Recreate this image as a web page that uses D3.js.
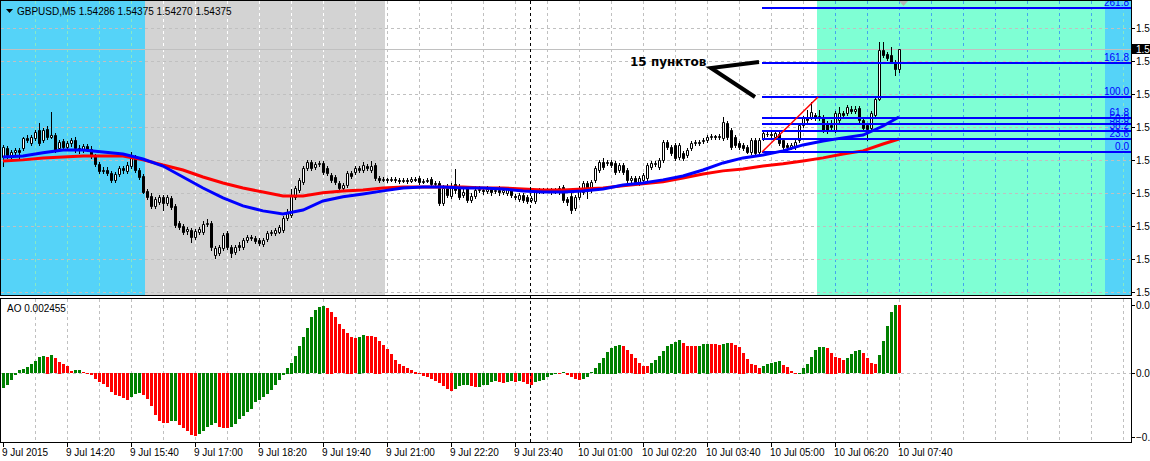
<!DOCTYPE html>
<html>
<head>
<meta charset="utf-8">
<script src="https://cdn.jsdelivr.net/npm/d3@7"></script>
<style>
body {margin: 0; background: #fff}
svg {display: block; font-family: "Liberation Sans", Arial, sans-serif; font-size: 10px}
</style>
</head>
<body>
<div id="chart"></div>
<script>
// Chart data: GBPUSD M5, one bar every 5 minutes starting 9 Jul 13:00
var symbol = "GBPUSD,M5"
var open = [
1.53884,1.53925,1.53893,1.53907,1.53916,1.53925,1.53971,1.53948,1.53971,1.54007,
1.53962,1.54012,1.53975,1.53984,1.53925,1.53957,1.53930,1.53948,1.53962,1.53925,
1.53916,1.53934,1.53921,1.53889,1.53853,1.53821,1.53825,1.53812,1.53780,1.53807,
1.53834,1.53821,1.53843,1.53884,1.53825,1.53798,1.53730,1.53707,1.53662,1.53680,
1.53703,1.53675,1.53698,1.53662,1.53584,1.53571,1.53548,1.53553,1.53521,1.53544,
1.53544,1.53580,1.53584,1.53439,1.53448,1.53471,1.53539,1.53475,1.53453,1.53484,
1.53475,1.53507,1.53521,1.53516,1.53507,1.53489,1.53512,1.53539,1.53539,1.53544,
1.53553,1.53607,1.53621,1.53703,1.53734,1.53771,1.53834,1.53862,1.53839,1.53853,
1.53857,1.53834,1.53803,1.53793,1.53766,1.53743,1.53757,1.53812,1.53816,1.53834,
1.53825,1.53843,1.53825,1.53848,1.53789,1.53780,1.53784,1.53780,1.53784,1.53780,
1.53775,1.53780,1.53775,1.53784,1.53789,1.53771,1.53775,1.53784,1.53762,1.53766,
1.53675,1.53743,1.53707,1.53762,1.53753,1.53712,1.53743,1.53689,1.53707,1.53734,
1.53734,1.53730,1.53739,1.53730,1.53734,1.53725,1.53721,1.53734,1.53707,1.53694,
1.53712,1.53703,1.53689,1.53684,1.53725,1.53734,1.53730,1.53734,1.53730,1.53725,
1.53748,1.53694,1.53707,1.53653,1.53703,1.53725,1.53766,1.53734,1.53780,1.53825,
1.53862,1.53857,1.53862,1.53857,1.53825,1.53848,1.53825,1.53780,1.53789,1.53766,
1.53780,1.53789,1.53839,1.53853,1.53839,1.53871,1.53953,1.53930,1.53939,1.53884,
1.53903,1.53893,1.53925,1.53948,1.53953,1.53957,1.53962,1.53975,1.53980,1.53975,
1.53971,1.54039,1.54007,1.53975,1.53948,1.53939,1.53930,1.53907,1.53962,1.53907,
1.53971,1.53989,1.53989,1.53975,1.53989,1.53962,1.53939,1.53930,1.53930,1.53962,
1.54030,1.54062,1.54066,1.54075,1.54066,1.54066,1.54039,1.54030,1.54007,1.54053,
1.54084,1.54084,1.54103,1.54094,1.54107,1.54053,1.54030,1.54016,1.54075,1.54148,
1.54371,1.54353,1.54348,1.54316,1.54286]
var high = [
1.53939,1.53934,1.53916,1.53925,1.53925,1.53975,1.53984,1.53984,1.54007,1.54039,
1.54016,1.54025,1.54089,1.53993,1.53962,1.53966,1.53957,1.53971,1.53975,1.53939,
1.53943,1.53943,1.53934,1.53898,1.53862,1.53839,1.53839,1.53821,1.53816,1.53843,
1.53843,1.53862,1.53907,1.53893,1.53834,1.53807,1.53739,1.53721,1.53703,1.53712,
1.53712,1.53712,1.53707,1.53671,1.53594,1.53580,1.53566,1.53562,1.53557,1.53566,
1.53594,1.53603,1.53594,1.53480,1.53484,1.53539,1.53548,1.53484,1.53484,1.53498,
1.53516,1.53530,1.53530,1.53525,1.53516,1.53516,1.53548,1.53553,1.53562,1.53575,
1.53616,1.53648,1.53739,1.53753,1.53789,1.53843,1.53871,1.53871,1.53862,1.53866,
1.53866,1.53843,1.53812,1.53803,1.53775,1.53766,1.53821,1.53821,1.53843,1.53843,
1.53862,1.53853,1.53866,1.53857,1.53798,1.53793,1.53789,1.53793,1.53793,1.53789,
1.53789,1.53789,1.53793,1.53793,1.53798,1.53784,1.53789,1.53793,1.53775,1.53775,
1.53757,1.53762,1.53766,1.53830,1.53762,1.53743,1.53753,1.53721,1.53753,1.53753,
1.53748,1.53753,1.53748,1.53743,1.53753,1.53743,1.53748,1.53743,1.53716,1.53721,
1.53721,1.53712,1.53707,1.53734,1.53743,1.53743,1.53743,1.53743,1.53743,1.53753,
1.53757,1.53703,1.53721,1.53712,1.53753,1.53775,1.53775,1.53780,1.53843,1.53871,
1.53880,1.53871,1.53871,1.53866,1.53857,1.53857,1.53834,1.53798,1.53798,1.53798,
1.53812,1.53857,1.53866,1.53866,1.53880,1.53962,1.53962,1.53939,1.53948,1.53948,
1.53912,1.53925,1.53957,1.53962,1.53962,1.53971,1.53984,1.53989,1.53984,1.53989,
1.54066,1.54048,1.54016,1.53984,1.53957,1.53948,1.53939,1.53971,1.53971,1.53971,
1.54003,1.53998,1.53998,1.54003,1.53998,1.53971,1.53948,1.53948,1.53962,1.54039,
1.54071,1.54098,1.54134,1.54084,1.54098,1.54075,1.54048,1.54053,1.54094,1.54112,
1.54094,1.54121,1.54116,1.54116,1.54116,1.54062,1.54039,1.54094,1.54157,1.54407,
1.54407,1.54362,1.54384,1.54325,1.54375]
var low = [
1.53843,1.53880,1.53880,1.53893,1.53880,1.53916,1.53953,1.53939,1.53962,1.53939,
1.53953,1.53966,1.53971,1.53907,1.53916,1.53916,1.53921,1.53934,1.53907,1.53903,
1.53907,1.53912,1.53880,1.53843,1.53812,1.53812,1.53803,1.53771,1.53771,1.53798,
1.53812,1.53812,1.53834,1.53816,1.53784,1.53721,1.53694,1.53653,1.53653,1.53671,
1.53643,1.53666,1.53648,1.53566,1.53557,1.53534,1.53534,1.53498,1.53512,1.53534,
1.53534,1.53571,1.53462,1.53425,1.53439,1.53462,1.53466,1.53430,1.53444,1.53462,
1.53466,1.53498,1.53507,1.53494,1.53484,1.53480,1.53503,1.53530,1.53530,1.53539,
1.53544,1.53598,1.53612,1.53694,1.53725,1.53762,1.53825,1.53825,1.53830,1.53843,
1.53807,1.53803,1.53771,1.53762,1.53734,1.53734,1.53748,1.53789,1.53807,1.53816,
1.53816,1.53825,1.53816,1.53780,1.53771,1.53775,1.53771,1.53775,1.53771,1.53766,
1.53771,1.53766,1.53771,1.53775,1.53762,1.53766,1.53771,1.53753,1.53753,1.53666,
1.53666,1.53703,1.53698,1.53721,1.53694,1.53703,1.53680,1.53680,1.53698,1.53725,
1.53716,1.53721,1.53712,1.53721,1.53712,1.53716,1.53712,1.53703,1.53694,1.53684,
1.53680,1.53675,1.53680,1.53675,1.53721,1.53721,1.53725,1.53716,1.53721,1.53716,
1.53680,1.53666,1.53630,1.53643,1.53694,1.53716,1.53698,1.53725,1.53771,1.53816,
1.53830,1.53848,1.53839,1.53807,1.53816,1.53807,1.53771,1.53771,1.53762,1.53757,
1.53771,1.53780,1.53830,1.53843,1.53830,1.53862,1.53921,1.53893,1.53871,1.53875,
1.53871,1.53884,1.53916,1.53939,1.53939,1.53948,1.53953,1.53966,1.53966,1.53966,
1.53962,1.53966,1.53921,1.53930,1.53921,1.53916,1.53903,1.53898,1.53893,1.53903,
1.53962,1.53980,1.53975,1.53966,1.53939,1.53921,1.53921,1.53921,1.53921,1.53953,
1.54021,1.54043,1.54057,1.54053,1.54053,1.53998,1.53993,1.54012,1.53998,1.54043,
1.54066,1.54075,1.54084,1.54084,1.54043,1.54007,1.53962,1.54007,1.54071,1.54143,
1.54339,1.54325,1.54312,1.54257,1.54270]
var close = [
1.53930,1.53893,1.53907,1.53916,1.53907,1.53971,1.53962,1.53975,1.53998,1.53948,
1.54007,1.53975,1.53984,1.53916,1.53953,1.53930,1.53948,1.53962,1.53925,1.53916,
1.53934,1.53921,1.53889,1.53853,1.53821,1.53825,1.53812,1.53780,1.53807,1.53834,
1.53825,1.53848,1.53893,1.53825,1.53793,1.53725,1.53703,1.53662,1.53694,1.53703,
1.53675,1.53703,1.53657,1.53575,1.53566,1.53544,1.53557,1.53521,1.53548,1.53557,
1.53580,1.53584,1.53475,1.53471,1.53475,1.53530,1.53475,1.53448,1.53475,1.53475,
1.53507,1.53521,1.53516,1.53503,1.53494,1.53507,1.53539,1.53544,1.53553,1.53566,
1.53607,1.53634,1.53712,1.53743,1.53780,1.53834,1.53862,1.53834,1.53853,1.53857,
1.53816,1.53812,1.53780,1.53771,1.53743,1.53757,1.53812,1.53798,1.53834,1.53825,
1.53848,1.53834,1.53843,1.53789,1.53780,1.53784,1.53780,1.53784,1.53780,1.53775,
1.53780,1.53775,1.53784,1.53780,1.53771,1.53775,1.53780,1.53762,1.53766,1.53675,
1.53743,1.53712,1.53753,1.53734,1.53703,1.53725,1.53689,1.53707,1.53734,1.53739,
1.53730,1.53739,1.53725,1.53734,1.53725,1.53734,1.53739,1.53712,1.53703,1.53712,
1.53689,1.53684,1.53698,1.53725,1.53734,1.53730,1.53734,1.53725,1.53734,1.53743,
1.53689,1.53680,1.53643,1.53703,1.53743,1.53766,1.53734,1.53771,1.53834,1.53862,
1.53839,1.53862,1.53848,1.53816,1.53848,1.53816,1.53780,1.53789,1.53771,1.53789,
1.53803,1.53848,1.53857,1.53857,1.53871,1.53953,1.53930,1.53903,1.53880,1.53939,
1.53880,1.53916,1.53948,1.53953,1.53948,1.53962,1.53975,1.53980,1.53975,1.53980,
1.54043,1.53975,1.53930,1.53939,1.53930,1.53925,1.53907,1.53962,1.53903,1.53962,
1.53993,1.53989,1.53984,1.53993,1.53948,1.53930,1.53930,1.53939,1.53953,1.54030,
1.54062,1.54053,1.54089,1.54066,1.54071,1.54007,1.54007,1.54021,1.54084,1.54084,
1.54075,1.54112,1.54094,1.54103,1.54053,1.54016,1.54012,1.54084,1.54148,1.54371,
1.54348,1.54334,1.54316,1.54286,1.54375]

// Moving averages read every 5 bars
var maBars = [0,5,10,15,20,25,30,35,40,45,50,55,60,65,70,75,80,85,90,95,100,105,110,115,120,125,130,135,140,145,150,155,160,165,170,175,180,185,190,195,200,205,210,215,220,224]
var maFast = [
1.53884,1.53889,1.53903,1.53916,1.53916,1.53907,1.53898,1.53875,1.53843,1.53793,
1.53743,1.53698,1.53662,1.53639,1.53625,1.53643,1.53684,1.53703,1.53716,1.53730,
1.53743,1.53748,1.53748,1.53743,1.53743,1.53739,1.53730,1.53725,1.53725,1.53730,
1.53739,1.53757,1.53766,1.53780,1.53798,1.53825,1.53857,1.53880,1.53893,1.53912,
1.53939,1.53957,1.53971,1.53984,1.54025,1.54066]
var maSlow = [
1.53866,1.53871,1.53880,1.53884,1.53889,1.53889,1.53889,1.53871,1.53848,1.53825,
1.53793,1.53766,1.53743,1.53725,1.53707,1.53707,1.53721,1.53730,1.53734,1.53743,
1.53748,1.53748,1.53748,1.53748,1.53743,1.53743,1.53739,1.53734,1.53734,1.53739,
1.53743,1.53753,1.53762,1.53771,1.53789,1.53807,1.53821,1.53830,1.53843,1.53853,
1.53866,1.53880,1.53898,1.53912,1.53943,1.53966]

// Awesome Oscillator
var aoValues = [
-0.000539,-0.000443,-0.000240,-0.000060,0.000120,0.000156,0.000240,0.000335,0.000443,0.000575,
0.000623,0.000599,0.000659,0.000539,0.000419,0.000335,0.000264,0.000084,0.000108,0.000120,
0.000036,-0.000024,-0.000060,-0.000204,-0.000323,-0.000395,-0.000515,-0.000683,-0.000803,-0.000839,
-0.000899,-0.000958,-0.000875,-0.000743,-0.000731,-0.000779,-0.000934,-0.001198,-0.001498,-0.001713,
-0.001797,-0.001809,-0.001737,-0.001725,-0.001857,-0.001977,-0.002073,-0.002240,-0.002276,-0.002192,
-0.002073,-0.001953,-0.001857,-0.001797,-0.001953,-0.001965,-0.001977,-0.001941,-0.001833,-0.001641,
-0.001557,-0.001414,-0.001294,-0.001054,-0.000958,-0.000875,-0.000743,-0.000623,-0.000443,-0.000264,
-0.000060,0.000204,0.000383,0.000623,0.000982,0.001306,0.001641,0.002025,0.002276,0.002396,
0.002420,0.002360,0.002216,0.002013,0.001773,0.001593,0.001462,0.001318,0.001258,0.001318,
0.001378,0.001342,0.001330,0.001318,0.001174,0.001018,0.000863,0.000683,0.000479,0.000335,
0.000264,0.000180,0.000120,0.000060,-0.000024,-0.000096,-0.000156,-0.000204,-0.000276,-0.000359,
-0.000479,-0.000575,-0.000635,-0.000563,-0.000479,-0.000443,-0.000419,-0.000455,-0.000515,-0.000503,
-0.000443,-0.000431,-0.000335,-0.000300,-0.000335,-0.000347,-0.000311,-0.000300,-0.000335,-0.000300,
-0.000335,-0.000395,-0.000419,-0.000335,-0.000300,-0.000264,-0.000156,-0.000060,-0.000024,-0.000024,
0.000036,-0.000060,-0.000156,-0.000216,-0.000264,-0.000216,-0.000144,0.000036,0.000204,0.000383,
0.000563,0.000779,0.000922,0.000994,0.001018,0.000982,0.000839,0.000695,0.000563,0.000383,
0.000276,0.000264,0.000383,0.000479,0.000623,0.000803,0.000994,0.001054,0.001138,0.001198,
0.001102,0.000994,0.000982,0.000982,0.000994,0.001054,0.001066,0.001054,0.001054,0.001018,
0.001054,0.001090,0.001078,0.001018,0.000958,0.000743,0.000515,0.000335,0.000300,0.000204,
0.000264,0.000335,0.000383,0.000419,0.000443,0.000300,0.000240,0.000084,-0.000036,-0.000012,
0.000204,0.000335,0.000599,0.000839,0.000934,0.000946,0.000922,0.000743,0.000599,0.000539,
0.000479,0.000563,0.000695,0.000803,0.000839,0.000743,0.000563,0.000383,0.000335,0.000659,
0.001174,0.001701,0.002216,0.002468,0.002455]
var aoScaleTicks = [0.002455, 0, -0.00228]

// Axes
var priceTicks = [1.5447, 1.5432, 1.5417, 1.5402, 1.5387, 1.5372, 1.5357, 1.5342, 1.5327]
var timeBars = [0,16,32,48,64,80,96,112,128,144,160,176,192,208,224]
var timeLabels = ["9 Jul 2015","9 Jul 14:20","9 Jul 15:40","9 Jul 17:00","9 Jul 18:20","9 Jul 19:40","9 Jul 21:00",
    "9 Jul 22:20","9 Jul 23:40","10 Jul 01:00","10 Jul 02:20","10 Jul 03:40","10 Jul 05:00","10 Jul 06:20","10 Jul 07:40"]
var daySeparatorBar = 132

// Session rectangles (bar indices)
var sessionStart = [-20, 36, 204, 276]
var sessionEnd = [36, 96, 276, 320]
var sessionFill = ["#55d3f8", "#d3d3d3", "#7fffd4", "#55d3f8"]
var sessionGrid = ["#86e9c6", "#ffffff", "#42a6ee", "#86e9c6"]

// Fibonacci retracement
var fibLevels = [0, 23.6, 38.2, 50, 61.8, 100, 161.8, 261.8]
var fibLabels = ["0.0", "23.6", "38.2", "50.0", "61.8", "100.0", "161.8", "261.8"]
var fibLowPrice = 1.53907, fibHighPrice = 1.54157
var fibLowBar = 190, fibHighBar = 204

// Hand-drawn annotation
var noteText = "15 пунктов"
var noteBar = 157, notePrice = 1.54298
var arrowBars = [189, 177, 188]
var arrowPrices = [1.54316, 1.54289, 1.54157]

// ==================================================================================
// LAYOUT
var total_width = 1150, total_height = 461
var plot_right = 1131
var main_top = 0, main_bottom = 296
var ao_top = 298, ao_bottom = 443
var grid_colour = "#c0c0c0"

var svg = d3.select("#chart").append("svg").attr("width", total_width).attr("height", total_height)

var x = d3.scaleLinear().domain([0, 224]).range([3, 899])
var y = d3.scaleLinear().domain([1.54598, 1.53252]).range([main_top, main_bottom])
var y_ao = d3.scaleLinear().domain([aoScaleTicks[0], aoScaleTicks[2]]).range([305, 436.7])

var defs = svg.append("defs")
defs.append("clipPath").attr("id", "clip_main").append("rect")
    .attr("x", 1).attr("y", 1).attr("width", plot_right - 1).attr("height", main_bottom - 2)
defs.append("clipPath").attr("id", "clip_ao").append("rect")
    .attr("x", 1).attr("y", ao_top + 1).attr("width", plot_right - 1).attr("height", ao_bottom - ao_top - 1)

var main = svg.append("g").attr("clip-path", "url(#clip_main)")
var ao = svg.append("g").attr("clip-path", "url(#clip_ao)")

// ==================================================================================
// MAIN PANEL

// Sessions
var sessions = d3.range(sessionStart.length)
main.selectAll(".session").data(sessions).join("rect")
    .attr("x", s => x(sessionStart[s] - 0.5))
    .attr("width", s => x(sessionEnd[s] - 0.5) - x(sessionStart[s] - 0.5))
    .attr("y", 0).attr("height", main_bottom)
    .attr("fill", s => sessionFill[s]);

// Vertical grid, every 8 bars, coloured by the session underneath
var gridBars = d3.range(8, 290, 8).filter(b => x(b) < plot_right)
function grid_colour_at(b) {
    for (var s = 0; s < sessions.length; s++) {
        if (b >= sessionStart[s] && b < sessionEnd[s]) return sessionGrid[s]
    }
    return grid_colour
}
main.selectAll(".vgrid").data(gridBars).join("line")
    .attr("x1", b => x(b) + 0.5).attr("x2", b => x(b) + 0.5)
    .attr("y1", 1).attr("y2", main_bottom)
    .attr("stroke", b => grid_colour_at(b))
    .attr("stroke-dasharray", "3,3");

// Horizontal grid
main.selectAll(".hgrid").data(priceTicks).join("line")
    .attr("x1", 1).attr("x2", plot_right)
    .attr("y1", p => Math.round(y(p)) + 0.5).attr("y2", p => Math.round(y(p)) + 0.5)
    .attr("stroke", grid_colour)
    .attr("stroke-dasharray", "3,3");

// Bid line
var last = close.length - 1
main.append("line")
    .attr("x1", 1).attr("x2", plot_right)
    .attr("y1", Math.round(y(close[last])) + 0.5).attr("y2", Math.round(y(close[last])) + 0.5)
    .attr("stroke", "#c0c0c0");

// Candles
var bars = d3.range(close.length)
var candles = main.append("g")
candles.selectAll(".wick").data(bars).join("line")
    .attr("x1", i => x(i) + 0.5).attr("x2", i => x(i) + 0.5)
    .attr("y1", i => Math.round(y(high[i]))).attr("y2", i => Math.round(y(low[i])) + 1)
    .attr("stroke", "#000");
candles.selectAll(".body").data(bars).join("path")
    .attr("d", function (i) {
        var top = Math.round(y(Math.max(open[i], close[i])))
        var bottom = Math.round(y(Math.min(open[i], close[i])))
        return "M" + (x(i) - 0.5) + "," + (top + 0.5) + "h2v" + (bottom - top) + "h-2Z"
    })
    .attr("fill", i => close[i] > open[i] ? "#fff" : "#000")
    .attr("stroke", "#000");

// Moving averages
var ma_line = d3.line().x(d => x(d[0])).y(d => y(d[1]))
main.append("path").datum(d3.zip(maBars, maSlow))
    .attr("d", ma_line).attr("fill", "none").attr("stroke", "#ff0000").attr("stroke-width", 3);
main.append("path").datum(d3.zip(maBars, maFast))
    .attr("d", ma_line).attr("fill", "none").attr("stroke", "#0000ff").attr("stroke-width", 3);

// Fibonacci levels
var fib_price = lvl => fibLowPrice + (fibHighPrice - fibLowPrice) * lvl / 100
var fib = main.append("g")
fib.selectAll(".fib").data(fibLevels).join("line")
    .attr("x1", x(fibLowBar) - 1).attr("x2", plot_right)
    .attr("y1", l => Math.round(y(fib_price(l)))).attr("y2", l => Math.round(y(fib_price(l))))
    .attr("stroke", "#0000ff").attr("stroke-width", 2);
fib.selectAll(".fib_label").data(fibLevels).join("text")
    .attr("x", plot_right - 2)
    .attr("y", l => Math.round(y(fib_price(l))) - 2)
    .attr("text-anchor", "end")
    .attr("fill", "#0000ff")
    .text((l, k) => fibLabels[k]);
main.append("line")
    .attr("x1", x(fibLowBar) - 1).attr("y1", y(fibLowPrice))
    .attr("x2", x(fibHighBar) - 1).attr("y2", y(fibHighPrice))
    .attr("stroke", "#ff0000").attr("stroke-width", 1.5);

// Annotation
main.append("text")
    .attr("x", x(noteBar) - 1).attr("y", y(notePrice))
    .attr("font-family", "DejaVu Sans, sans-serif").attr("font-size", 12).attr("font-weight", "bold")
    .text(noteText);
main.append("path")
    .attr("d", d3.line().x(k => x(arrowBars[k])).y(k => y(arrowPrices[k]))([0, 1, 2]))
    .attr("fill", "none").attr("stroke", "#000").attr("stroke-width", 4)
    .attr("stroke-linejoin", "miter");

// Chart shift marker
svg.append("path")
    .attr("d", "M" + (x(225) - 4) + ",1h9l-4.5,5Z")
    .attr("fill", "#b4b4b4");

// Header
svg.append("path").attr("d", "M6,9h7l-3.5,4Z").attr("fill", "#000")
svg.append("text").attr("x", 17).attr("y", 15)
    .text(symbol + "  " + [open[last], high[last], low[last], close[last]].map(d3.format(".5f")).join(" "));

// ==================================================================================
// AO PANEL
ao.append("rect").attr("x", 0).attr("y", ao_top).attr("width", plot_right).attr("height", ao_bottom - ao_top).attr("fill", "#fff")
ao.selectAll(".vgrid").data(gridBars).join("line")
    .attr("x1", b => x(b) + 0.5).attr("x2", b => x(b) + 0.5)
    .attr("y1", ao_top + 1).attr("y2", ao_bottom)
    .attr("stroke", grid_colour)
    .attr("stroke-dasharray", "3,3");
ao.append("line")
    .attr("x1", 1).attr("x2", plot_right)
    .attr("y1", Math.round(y_ao(0)) + 0.5).attr("y2", Math.round(y_ao(0)) + 0.5)
    .attr("stroke", grid_colour).attr("stroke-dasharray", "3,3");
ao.selectAll(".ao_bar").data(bars).join("rect")
    .attr("x", i => x(i) - 1).attr("width", 3)
    .attr("y", i => Math.round(Math.min(y_ao(aoValues[i]), y_ao(0))))
    .attr("height", i => Math.max(1, Math.round(Math.abs(y_ao(aoValues[i]) - y_ao(0)))))
    .attr("fill", i => (i == 0 || aoValues[i] > aoValues[i - 1]) ? "#008000" : "#ff0000");
svg.append("text").attr("x", 7).attr("y", 312)
    .text("AO " + d3.format(".6f")(aoValues[last]));

// ==================================================================================
// DAY SEPARATOR, FRAMES, AXES
svg.append("line")
    .attr("x1", x(daySeparatorBar) - 0.5).attr("x2", x(daySeparatorBar) - 0.5)
    .attr("y1", 1).attr("y2", ao_bottom)
    .attr("stroke", "#000").attr("stroke-dasharray", "3,3");
svg.append("rect").attr("x", 0.5).attr("y", 0.5).attr("width", plot_right).attr("height", main_bottom - 1)
    .attr("fill", "none").attr("stroke", "#000")
svg.append("rect").attr("x", 0.5).attr("y", ao_top + 0.5).attr("width", plot_right).attr("height", ao_bottom - ao_top - 1)
    .attr("fill", "none").attr("stroke", "#000")

// Price axis
var price_axis = svg.append("g")
price_axis.selectAll(".tick").data(priceTicks).join("line")
    .attr("x1", plot_right).attr("x2", plot_right + 4)
    .attr("y1", p => Math.round(y(p)) + 0.5).attr("y2", p => Math.round(y(p)) + 0.5)
    .attr("stroke", "#000");
price_axis.selectAll(".label").data(priceTicks).join("text")
    .attr("x", plot_right + 5).attr("y", p => Math.round(y(p)) + 4)
    .text(d3.format(".5f"));
price_axis.append("rect")
    .attr("x", plot_right + 1).attr("y", Math.round(y(close[last])) - 5)
    .attr("width", total_width - plot_right).attr("height", 10).attr("fill", "#000");
price_axis.append("text")
    .attr("x", plot_right + 5).attr("y", Math.round(y(close[last])) + 4)
    .attr("fill", "#fff").text(d3.format(".5f")(close[last]));

// AO axis
var ao_axis = svg.append("g")
ao_axis.selectAll(".tick").data(aoScaleTicks).join("line")
    .attr("x1", plot_right).attr("x2", plot_right + 4)
    .attr("y1", v => Math.round(y_ao(v)) + 0.5).attr("y2", v => Math.round(y_ao(v)) + 0.5)
    .attr("stroke", "#000");
ao_axis.selectAll(".label").data(aoScaleTicks).join("text")
    .attr("x", plot_right + 5).attr("y", v => Math.round(y_ao(v)) + 4)
    .text(d3.format(".6f"));

// Time axis
var time_axis = svg.append("g")
time_axis.selectAll(".tick").data(timeBars).join("line")
    .attr("x1", b => x(b) + 0.5).attr("x2", b => x(b) + 0.5)
    .attr("y1", ao_bottom).attr("y2", ao_bottom + 4)
    .attr("stroke", "#000");
time_axis.selectAll(".label").data(timeBars).join("text")
    .attr("x", b => x(b) - 1).attr("y", 456)
    .text((b, k) => timeLabels[k]);
</script>
</body>
</html>
